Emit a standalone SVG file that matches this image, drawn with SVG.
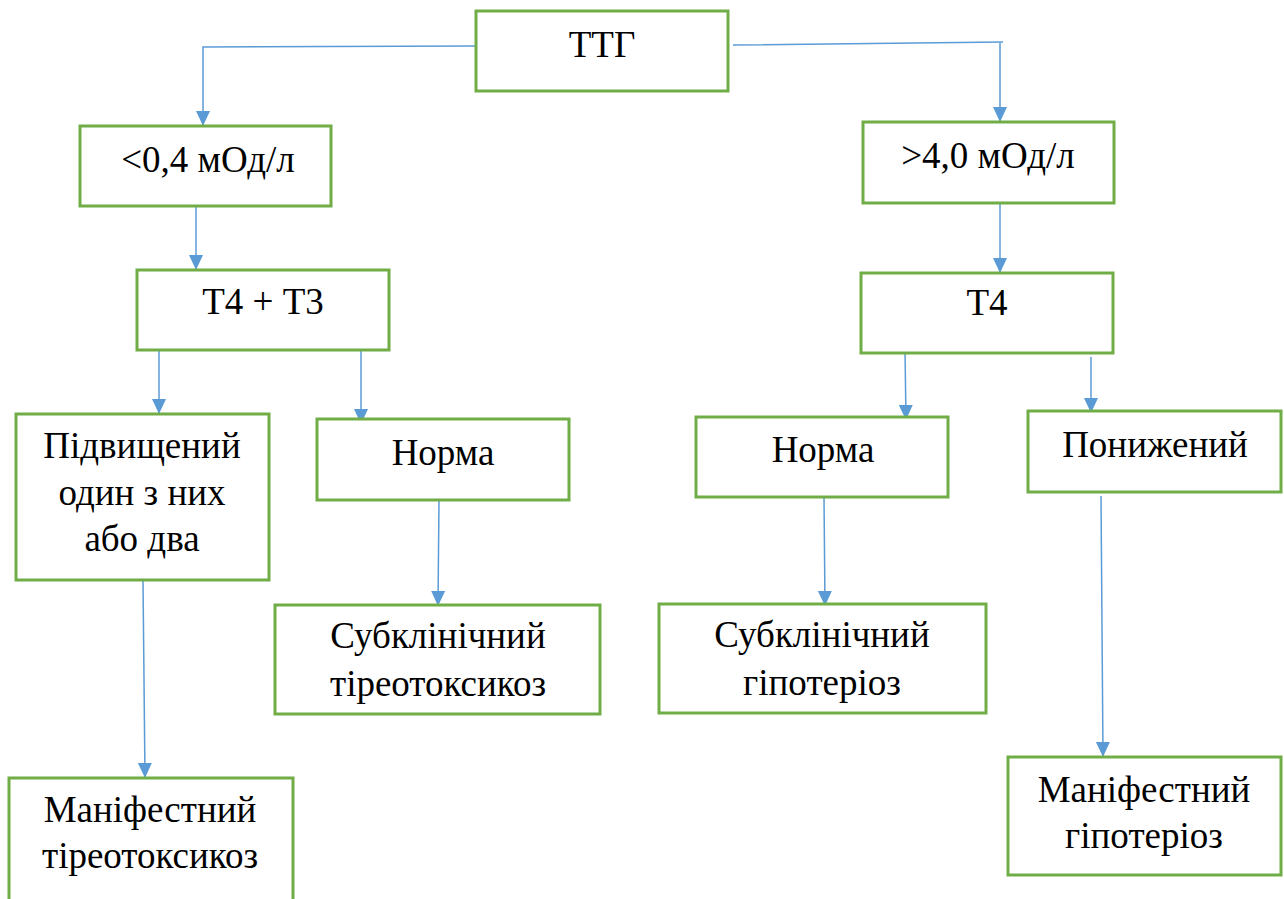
<svg xmlns="http://www.w3.org/2000/svg" width="1284" height="899" viewBox="0 0 1284 899">
<defs>
<style>
.box{fill:#fff;stroke:#70AD47;stroke-width:3}
.t{font-family:'Liberation Serif','Times New Roman','DejaVu Serif',serif;font-size:37px;fill:#000;text-anchor:middle}
.c{fill:none;stroke:#5B9BD5;stroke-width:1.5}
</style>
<marker id="ah" markerUnits="userSpaceOnUse" markerWidth="16" markerHeight="16" viewBox="0 0 16 16" refX="15" refY="8" orient="auto">
<path d="M0,1 L15,8 L0,15 Z" fill="#5B9BD5"/>
</marker>
</defs>
<rect width="1284" height="899" fill="#fff"/>
<g id="connectors">
<path class="c" d="M476,46 L203,47 L203,126" marker-end="url(#ah)"/>
<path class="c" d="M733,45 L1003,42 M1000,42 L1000,122" marker-end="url(#ah)"/>
<path class="c" d="M196,206 L196,270" marker-end="url(#ah)"/>
<path class="c" d="M1000,204 L1000,273" marker-end="url(#ah)"/>
<path class="c" d="M159,351 L159,414" marker-end="url(#ah)"/>
<path class="c" d="M361,350 L361,424" marker-end="url(#ah)"/>
<path class="c" d="M143,580 L145,778" marker-end="url(#ah)"/>
<path class="c" d="M439,500 L438,606" marker-end="url(#ah)"/>
<path class="c" d="M905,350 L906,420" marker-end="url(#ah)"/>
<path class="c" d="M1091,357 L1091,413" marker-end="url(#ah)"/>
<path class="c" d="M824,497 L825,606" marker-end="url(#ah)"/>
<path class="c" d="M1101,496 L1103,757" marker-end="url(#ah)"/>
</g>
<g id="ttg"><rect class="box" x="476" y="11" width="252" height="80"/><text class="t" x="602" y="57">ТТГ</text></g>
<g id="low"><rect class="box" x="80" y="126" width="251" height="80"/><text class="t" x="208" y="172">&lt;0,4 мОд/л</text></g>
<g id="high"><rect class="box" x="863" y="122" width="251" height="81"/><text class="t" x="988" y="168">&gt;4,0 мОд/л</text></g>
<g id="t4t3"><rect class="box" x="137" y="270" width="252" height="80"/><text class="t" x="263" y="314">Т4 + Т3</text></g>
<g id="t4"><rect class="box" x="861" y="273" width="252" height="80"/><text class="t" x="987" y="315">Т4</text></g>
<g id="raised"><rect class="box" x="16" y="414" width="253" height="166"/><text class="t" x="142" y="458">Підвищений</text><text class="t" x="142" y="505">один з них</text><text class="t" x="142" y="551">або два</text></g>
<g id="norm1"><rect class="box" x="317" y="419" width="252" height="81"/><text class="t" x="443" y="465">Норма</text></g>
<g id="norm2"><rect class="box" x="696" y="417" width="252" height="80"/><text class="t" x="823" y="462">Норма</text></g>
<g id="lowered"><rect class="box" x="1028" y="411" width="253" height="81"/><text class="t" x="1155" y="457">Понижений</text></g>
<g id="subtox"><rect class="box" x="275" y="605" width="325" height="109"/><text class="t" x="438" y="648">Субклінічний</text><text class="t" x="438" y="696">тіреотоксикоз</text></g>
<g id="subhypo"><rect class="box" x="659" y="604" width="327" height="109"/><text class="t" x="822" y="647">Субклінічний</text><text class="t" x="822" y="695">гіпотеріоз</text></g>
<g id="mantox"><rect class="box" x="9" y="778" width="284" height="130"/><text class="t" x="150" y="822">Маніфестний</text><text class="t" x="150" y="868">тіреотоксикоз</text></g>
<g id="manhypo"><rect class="box" x="1008" y="757" width="273" height="118"/><text class="t" x="1144" y="802">Маніфестний</text><text class="t" x="1144" y="848">гіпотеріоз</text></g>
</svg>
